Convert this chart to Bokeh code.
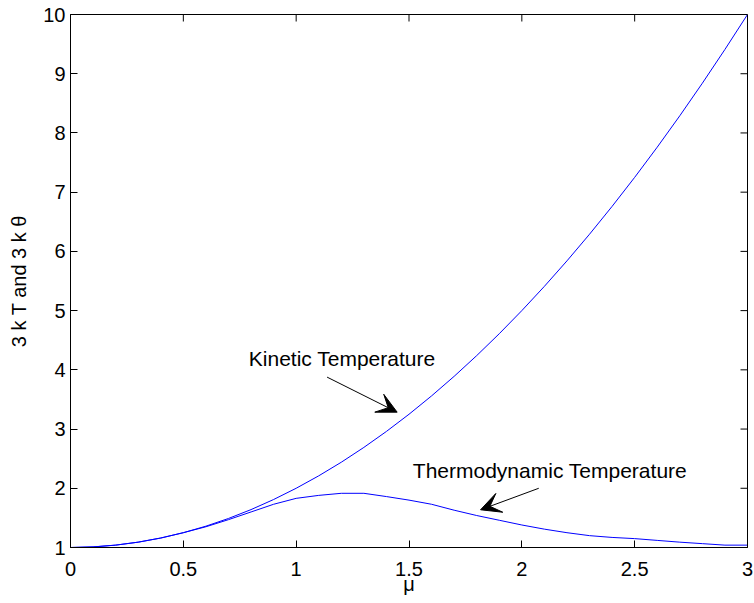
import math
from bokeh.plotting import figure
from bokeh.models import Range1d, FixedTicker, Label, Arrow, VeeHead
from bokeh.embed import file_html
from bokeh.resources import INLINE

# ---- data ----
mu = [0.0, 0.1, 0.2, 0.3, 0.4, 0.5, 0.6, 0.7, 0.8, 0.9, 1.0,
      1.1, 1.2, 1.3, 1.4, 1.5, 1.6, 1.7, 1.8, 1.9, 2.0,
      2.1, 2.2, 2.3, 2.4, 2.5, 2.6, 2.7, 2.8, 2.9, 3.0]
kinetic = [1.00, 1.01, 1.04, 1.09, 1.16, 1.25, 1.36, 1.49, 1.64, 1.81, 2.00,
           2.21, 2.44, 2.69, 2.96, 3.25, 3.56, 3.89, 4.24, 4.61, 5.00,
           5.41, 5.84, 6.29, 6.76, 7.25, 7.76, 8.29, 8.84, 9.41, 10.00]
thermo = [1.00, 1.01, 1.04, 1.09, 1.16, 1.25, 1.35, 1.47, 1.60, 1.73, 1.83,
          1.88, 1.915, 1.915, 1.86, 1.80, 1.73, 1.63, 1.54, 1.46, 1.38,
          1.31, 1.25, 1.20, 1.17, 1.15, 1.12, 1.09, 1.065, 1.04, 1.04]
x_ticks = [0, 0.5, 1, 1.5, 2, 2.5, 3]
y_ticks = [1, 2, 3, 4, 5, 6, 7, 8, 9, 10]
x_lim = (0, 3)
y_lim = (1, 10)

kin_label = "Kinetic Temperature"
kin_label_pos = (0.79, 4.195)
kin_arrow = (1.137, 3.877, 1.4475, 3.285)
th_label = "Thermodynamic Temperature"
th_label_pos = (1.517, 2.305)
th_arrow = (2.075, 2.0, 1.817, 1.637)

FONT = "Liberation Sans"
FS = "20px"
TICK = 7

p = figure(width=753, height=601, output_backend="svg", toolbar_location=None,
           x_range=Range1d(*x_lim), y_range=Range1d(*y_lim),
           min_border_left=70, min_border_top=14, min_border_right=6,
           min_border_bottom=54)
p.background_fill_color = "white"
p.border_fill_color = "white"
p.outline_line_color = "black"
p.outline_line_width = 1
p.outline_line_alpha = 1
p.grid.visible = False

p.line(mu, kinetic, line_color="#0000ff", line_width=1)
p.line(mu, thermo, line_color="#0000ff", line_width=1)

for ax, ticks in ((p.xaxis[0], x_ticks), (p.yaxis[0], y_ticks)):
    ax.ticker = FixedTicker(ticks=ticks)
    ax.major_tick_in = TICK
    ax.major_tick_out = 0
    ax.minor_tick_line_color = None
    ax.axis_line_color = "black"
    ax.major_tick_line_color = "black"
    ax.major_label_text_font = FONT
    ax.major_label_text_font_size = FS
    ax.major_label_text_color = "black"
    ax.axis_label_text_font = FONT
    ax.axis_label_text_font_size = FS
    ax.axis_label_text_font_style = "normal"
    ax.axis_label_text_color = "black"

xa = p.xaxis[0]
ya = p.yaxis[0]
xa.axis_label = "μ"
ya.axis_label = "3 k T and 3 k θ"
xa.major_label_standoff = 14
xa.axis_label_standoff = -6
ya.major_label_standoff = 5
ya.axis_label_standoff = 10

# mirrored inward ticks on the top and right edges of the box
p.ray(x=x_ticks, y=[y_lim[1]] * len(x_ticks), length=TICK, length_units="screen",
      angle=-math.pi / 2, line_color="black", line_width=1)
p.ray(x=[x_lim[1]] * len(y_ticks), y=y_ticks, length=TICK, length_units="screen",
      angle=math.pi, line_color="black", line_width=1)

for txt, (lx, ly) in ((kin_label, kin_label_pos), (th_label, th_label_pos)):
    p.add_layout(Label(x=lx, y=ly, text=txt, text_font=FONT, text_font_size="21px",
                       text_color="black", text_baseline="alphabetic", text_align="left"))

for (x0, y0, x1, y1) in (kin_arrow, th_arrow):
    p.add_layout(Arrow(x_start=x0, y_start=y0, x_end=x1, y_end=y1,
                       line_color="black", line_width=1,
                       end=VeeHead(size=20, fill_color="black", line_color="black", line_width=1)))

open("out.html", "w").write(file_html(p, INLINE))
